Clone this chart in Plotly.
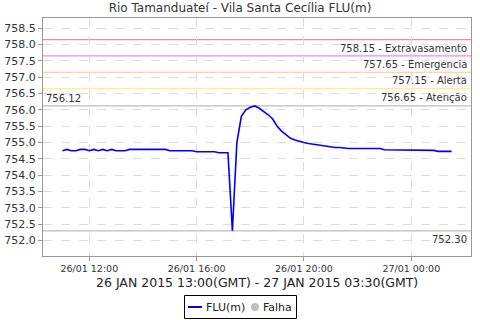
import pandas as pd
import plotly.graph_objects as go

# ---- data ----
start_time = "2015-01-26 11:00"
step_minutes = 10
flu_values = [
    754.75, 754.79, 754.75, 754.75, 754.79, 754.79,
    754.75, 754.79, 754.75, 754.79, 754.75, 754.79,
    754.75, 754.75, 754.75, 754.79, 754.79, 754.79,
    754.79, 754.79, 754.79, 754.79, 754.79, 754.79,
    754.75, 754.75, 754.75, 754.75, 754.75, 754.75,
    754.72, 754.72, 754.72, 754.72, 754.72, 754.69,
    754.69, 754.69, 752.30, 755.00, 755.80, 756.00,
    756.08, 756.12, 756.05, 755.95, 755.85, 755.72,
    755.50, 755.35, 755.25, 755.13, 755.08, 755.03,
    755.00, 754.97, 754.95, 754.92, 754.90, 754.88,
    754.86, 754.85, 754.85, 754.83, 754.82, 754.82,
    754.82, 754.82, 754.82, 754.82, 754.82, 754.82,
    754.78, 754.78, 754.78, 754.78, 754.78, 754.78,
    754.76, 754.76, 754.76, 754.76, 754.76, 754.76,
    754.73, 754.73, 754.73, 754.73,
]
threshold_values = [758.15, 757.65, 757.15, 756.65]
threshold_names = ["Extravasamento", "Emergencia", "Alerta", "Atenção"]
threshold_colors = ["#f08c8c", "#ee88ee", "#ffc488", "#fff080"]
series_names = ["FLU(m)", "Falha"]
series_colors = ["#0000ff", "#c0c0c0"]
title_text = "Rio Tamanduateí - Vila Santa Cecília FLU(m)"
xaxis_title = "26 JAN 2015 13:00(GMT) - 27 JAN 2015 03:30(GMT)"

times = pd.date_range(start_time, periods=len(flu_values), freq=f"{step_minutes}min")
vmax = max(flu_values)
vmin = min(flu_values)

# plot-area geometry (px)
PL, PR, PT, PB = 43, 471, 18, 256


def px_x(x):
    return (x - PL) / (PR - PL)


def px_y(y):
    return (PB - y) / (PB - PT)


fig = go.Figure()
fig.add_trace(go.Scatter(x=times, y=flu_values, mode="lines", name=series_names[0],
                         line=dict(color=series_colors[0], width=1.6), showlegend=False))
fig.add_trace(go.Scatter(x=[None], y=[None], mode="markers", name=series_names[1],
                         marker=dict(color=series_colors[1], size=8), showlegend=False))

shapes = []
annotations = []
font_ann = dict(family="DejaVu Sans", size=10, color="#333333")
for v, n, c in zip(threshold_values, threshold_names, threshold_colors):
    shapes.append(dict(type="line", xref="paper", x0=0, x1=1, yref="y", y0=v, y1=v,
                       line=dict(color=c, width=1.2), layer="below"))
    annotations.append(dict(xref="paper", x=1, xanchor="right", xshift=-2,
                            yref="y", y=v, yanchor="top", yshift=-1,
                            text=f"{v:.2f} - {n}", showarrow=False, font=font_ann))
for v, side in ((vmax, "left"), (vmin, "right")):
    shapes.append(dict(type="line", xref="paper", x0=0, x1=1, yref="y", y0=v, y1=v,
                       line=dict(color="#bdbdbd", width=1.2), layer="below"))
    if side == "left":
        annotations.append(dict(xref="paper", x=0, xanchor="left", xshift=1,
                                yref="y", y=v, yanchor="bottom", yshift=0,
                                text=f"{v:.2f}", showarrow=False, font=font_ann))
    else:
        annotations.append(dict(xref="paper", x=1, xanchor="right", xshift=-2,
                                yref="y", y=v, yanchor="top", yshift=-1,
                                text=f"{v:.2f}", showarrow=False, font=font_ann))

# legend (drawn below the plot)
LEG_Y = 307
shapes.append(dict(type="rect", xref="paper", yref="paper",
                   x0=px_x(184.5), x1=px_x(296.5), y0=px_y(318.5), y1=px_y(295.5),
                   line=dict(color="#000000", width=1), fillcolor="white"))
shapes.append(dict(type="line", xref="paper", yref="paper",
                   x0=px_x(188), x1=px_x(202), y0=px_y(LEG_Y), y1=px_y(LEG_Y),
                   line=dict(color=series_colors[0], width=2)))
shapes.append(dict(type="circle", xref="paper", yref="paper",
                   x0=px_x(251), x1=px_x(259), y0=px_y(LEG_Y + 4), y1=px_y(LEG_Y - 4),
                   line=dict(color=series_colors[1], width=0), fillcolor=series_colors[1]))
font_leg = dict(family="DejaVu Sans", size=11, color="#222222")
annotations.append(dict(xref="paper", yref="paper", x=px_x(203.5), y=px_y(LEG_Y),
                        xanchor="left", yanchor="middle", text=series_names[0],
                        showarrow=False, font=font_leg))
annotations.append(dict(xref="paper", yref="paper", x=px_x(261), y=px_y(LEG_Y),
                        xanchor="left", yanchor="middle", text=series_names[1],
                        showarrow=False, font=font_leg))

# x axis title as text under the ticks
annotations.append(dict(xref="paper", x=0.5, xanchor="center", yref="paper", y=px_y(282),
                        yanchor="middle", text=xaxis_title, showarrow=False,
                        font=dict(family="DejaVu Sans", size=12.5, color="#222222")))

span = times[-1] - times[0]
pad = span * 0.05

fig.update_layout(
    width=480, height=320,
    margin=dict(l=PL, r=480 - PR, t=PT, b=320 - PB, autoexpand=False),
    paper_bgcolor="white", plot_bgcolor="white",
    title=dict(text=title_text, x=0.5, xanchor="center", y=0.975, yanchor="middle",
               font=dict(family="DejaVu Sans", size=12, color="#333333")),
    font=dict(family="DejaVu Sans", color="#333333"),
    shapes=shapes, annotations=annotations,
    showlegend=False,
)
fig.update_xaxes(
    range=[times[0] - pad, times[-1] + pad], automargin=False,
    tickformat="%d/%m %H:%M", dtick=4 * 3600 * 1000, tick0="2015-01-26 00:00",
    ticks="outside", ticklen=4, tickcolor="#999999",
    tickfont=dict(family="DejaVu Sans", size=9.5, color="#333333"),
    showgrid=True, gridcolor="#dcdcdc", griddash="dash", gridwidth=1,
    showline=True, linecolor="#999999", mirror=True, zeroline=False,
)
fig.update_yaxes(
    range=[751.53, 758.81], dtick=0.5, tick0=752.0, tickformat=".1f", automargin=False,
    ticks="outside", ticklen=4, tickcolor="#999999",
    tickfont=dict(family="DejaVu Sans", size=11, color="#333333"),
    showgrid=True, gridcolor="#dcdcdc", griddash="dash", gridwidth=1,
    showline=True, linecolor="#999999", mirror=True, zeroline=False,
)

fig.write_html("out.html")
